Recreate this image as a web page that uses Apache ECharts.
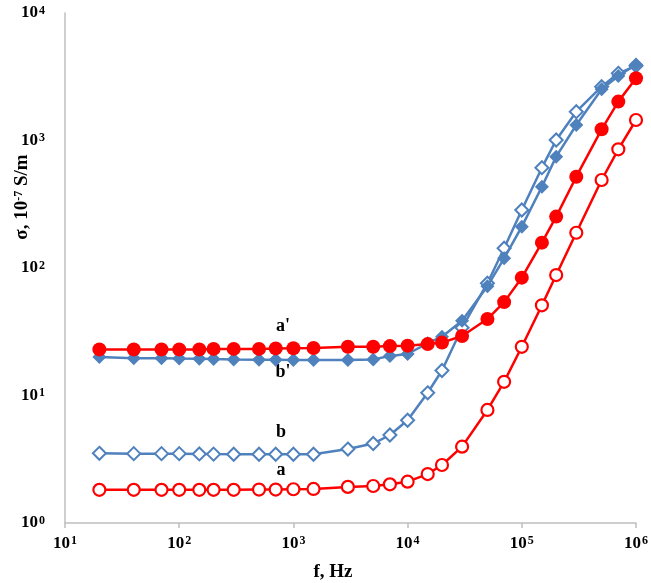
<!DOCTYPE html>
<html>
<head>
<meta charset="utf-8">
<script src="https://cdn.jsdelivr.net/npm/echarts@6/dist/echarts.min.js"></script>
<style>
html,body{margin:0;padding:0;background:#fff;}
#chart{width:651px;height:583px;}
</style>
</head>
<body>
<div id="chart"></div>
<script>
// Frequencies (Hz)
var freq = [20,40,70,100,150,200,300,500,700,1000,1500,3000,5000,7000,10000,15000,20000,30000,50000,70000,100000,150000,200000,300000,500000,700000,1000000];
// Conductivity, 10^-7 S/m
var sigmaA  = [1.82,1.82,1.82,1.82,1.82,1.82,1.82,1.83,1.83,1.84,1.85,1.92,1.95,2.01,2.11,2.42,2.85,3.97,7.7,12.8,24.1,51,88,189,490,853,1448];
var sigmaB  = [3.52,3.5,3.5,3.5,3.48,3.47,3.46,3.46,3.46,3.46,3.46,3.8,4.2,4.9,6.4,10.5,15.7,34,76,143,285,612,1009,1683,2643,3365,3850];
var sigmaA1 = [23.0,23.0,23.0,23.0,23.0,23.2,23.2,23.2,23.4,23.5,23.6,24.1,24.1,24.4,24.6,25.3,26,29.3,39.8,54,84,158,253,520,1224,2018,3077];
var sigmaB1 = [20,19.6,19.6,19.5,19.4,19.3,19.2,19.1,19.1,19.0,19.0,19.0,19.2,20.4,21.2,25.7,28.9,38.6,72,119,211,434,747,1324,2520,3206,3950];
// Axis tick exponents
var xTickExp = [1,2,3,4,5,6];
var yTickExp = [0,1,2,3,4];
var curveLabels = ["a'", "b'", "b", "a"];

var RED = '#FF0000', BLUE = '#4F81BD';
var FONT = 'Liberation Serif';

function pairs(ys){ return freq.map(function(f,i){ return [f, ys[i]]; }); }
function expLabel(v){
  var e = Math.round(Math.log(v)/Math.LN10);
  return '{b|10}{s|' + e + '}';
}
var richLab = {
  b:{fontSize:17,fontWeight:'bold',fontFamily:FONT,color:'#000'},
  s:{fontSize:12,fontWeight:'bold',fontFamily:FONT,color:'#000',verticalAlign:'top',padding:[0,0,0,1]}
};

var chart = echarts.init(document.getElementById('chart'), null, {renderer:'canvas'});
var axisLineStyle = {color:'#BFBFBF', width:1.5};
var lblFont = 'bold 18px "Liberation Serif"';

var option = {
  backgroundColor:'#fff',
  animation:false,
  grid:{left:65,right:15,top:13,bottom:60,containLabel:false},
  xAxis:{
    type:'log', logBase:10, min:Math.pow(10,xTickExp[0]), max:Math.pow(10,xTickExp[xTickExp.length-1]),
    axisLine:{show:true,lineStyle:axisLineStyle},
    axisTick:{show:true,inside:false,length:5,lineStyle:axisLineStyle},
    splitLine:{show:false},
    axisLabel:{margin:12,formatter:expLabel,rich:richLab}
  },
  yAxis:{
    type:'log', logBase:10, min:Math.pow(10,yTickExp[0]), max:Math.pow(10,yTickExp[yTickExp.length-1]),
    axisLine:{show:true,lineStyle:axisLineStyle},
    axisTick:{show:false},
    splitLine:{show:false},
    axisLabel:{margin:20,formatter:expLabel,rich:richLab}
  },
  series:[
    {name:'b', type:'line', data:pairs(sigmaB), symbol:'diamond', symbolSize:13,
     lineStyle:{color:BLUE,width:2.5}, itemStyle:{color:'#fff',borderColor:BLUE,borderWidth:2}, z:2},
    {name:"b'", type:'line', data:pairs(sigmaB1), symbol:'diamond', symbolSize:14,
     lineStyle:{color:BLUE,width:2.5}, itemStyle:{color:BLUE,borderColor:BLUE,borderWidth:0}, z:3},
    {name:'a', type:'line', data:pairs(sigmaA), symbol:'circle', symbolSize:12,
     lineStyle:{color:RED,width:2.5}, itemStyle:{color:'#fff',borderColor:RED,borderWidth:2.2}, z:4},
    {name:"a'", type:'line', data:pairs(sigmaA1), symbol:'circle', symbolSize:14,
     lineStyle:{color:RED,width:2.5}, itemStyle:{color:RED,borderColor:RED,borderWidth:0}, z:5}
  ],
  graphic:[
    {type:'text', x:283, y:326, style:{text:curveLabels[0],font:lblFont,fill:'#000',align:'center',verticalAlign:'middle'}},
    {type:'text', x:283, y:372, style:{text:curveLabels[1],font:lblFont,fill:'#000',align:'center',verticalAlign:'middle'}},
    {type:'text', x:281, y:432, style:{text:curveLabels[2],font:lblFont,fill:'#000',align:'center',verticalAlign:'middle'}},
    {type:'text', x:281, y:470, style:{text:curveLabels[3],font:lblFont,fill:'#000',align:'center',verticalAlign:'middle'}},
    {type:'text', x:333, y:572, style:{text:'f, Hz',font:'bold 19px "Liberation Serif"',fill:'#000',align:'center',verticalAlign:'middle'}},
    {type:'text', x:22, y:197, rotation:Math.PI/2,
     style:{text:'{t|σ, 10}{s|-7}{t| S/m}',align:'center',verticalAlign:'middle',
       rich:{t:{fontSize:19,fontWeight:'bold',fontFamily:FONT,fill:'#000'},
             s:{fontSize:12,fontWeight:'bold',fontFamily:FONT,fill:'#000',verticalAlign:'top'}}}}
  ]
};
chart.setOption(option);
</script>
</body>
</html>
